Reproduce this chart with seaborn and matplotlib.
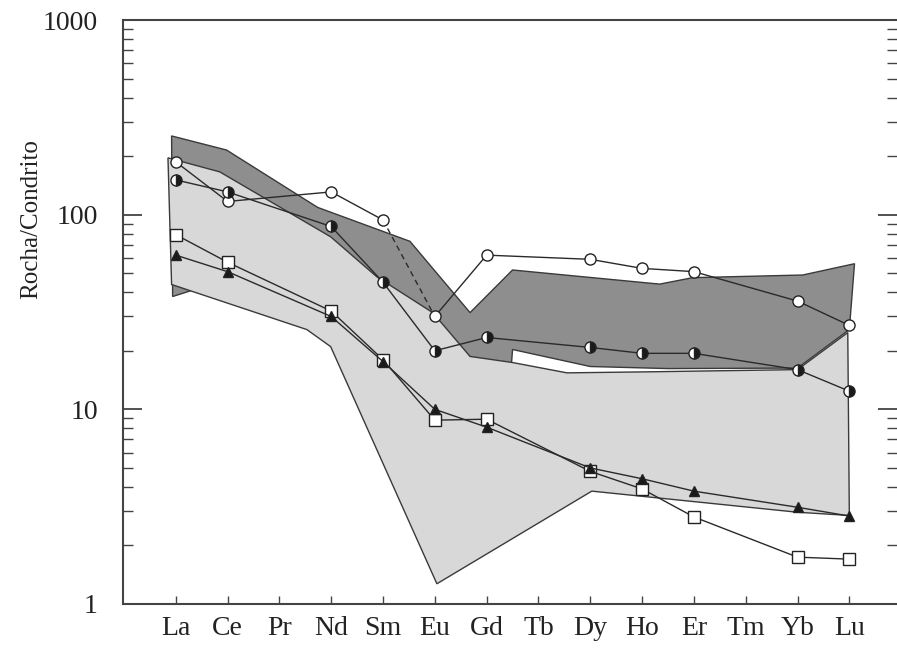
import matplotlib
matplotlib.use("Agg")
import matplotlib.pyplot as plt
import matplotlib.ticker as mticker
import pandas as pd
import seaborn as sns

# elementos terras raras no eixo x
elements = ["La", "Ce", "Pr", "Nd", "Sm", "Eu", "Gd", "Tb", "Dy", "Ho", "Er", "Tm", "Yb", "Lu"]
sample_elems = ["La", "Ce", "Nd", "Sm", "Eu", "Gd", "Dy", "Ho", "Er", "Yb", "Lu"]

# amostras (normalizadas ao condrito)
open_circle = [187, 117, 131, 94, 30, 62, 59, 53, 51, 36, 27]
half_circle = [151, 131, 87, 45, 20, 23.4, 20.8, 19.4, 19.4, 16.0, 12.4]
open_square = [79, 57, 32, 18, 8.8, 8.9, 4.8, 3.9, 2.8, 1.74, 1.70]
filled_tri = [62, 51, 30, 17.6, 10.0, 8.1, 5.0, 4.4, 3.8, 3.14, 2.83]

# campo cinza escuro (posição no eixo x, valor)
dark_x = [-0.08, 0.98, 2.74, 4.52, 5.68, 6.5, 9.34, 9.98, 12.1, 13.1, 13.0, 12.0, 9.5, 8.0, 6.5, 6.45, 2.99, 0.33, -0.06]
dark_y = [254, 215, 109, 73, 31.4, 52, 44, 47.5, 49, 56, 25.7, 16.3, 16.2, 16.6, 20.3, 13.4, 24.3, 41, 38]

# campo cinza claro
light_x = [-0.15, 0.85, 2.99, 3.88, 4.96, 5.68, 6.5, 7.55, 9.21, 12.0, 12.97, 13.0, 12.0, 8.03, 5.04, 2.99, 2.53, -0.08]
light_y = [196, 166, 77, 48, 31.4, 18.7, 17.4, 15.4, 15.6, 16.0, 24.8, 2.85, 2.96, 3.8, 1.27, 21, 25.7, 43.8]

sns.set_style("ticks")
plt.rcParams["font.family"] = ["Liberation Serif", "DejaVu Serif"]

fig = plt.figure(figsize=(8.97, 6.59), dpi=100)
ax = fig.add_axes([0.137, 0.0835, 0.863, 0.886])

ax.fill(dark_x, dark_y, facecolor="#8e8e8e", edgecolor="#3a3a3a", linewidth=1.0, zorder=1)
ax.fill(light_x, light_y, facecolor="#d8d8d8", edgecolor="#3a3a3a", linewidth=1.0, zorder=2)

pos = [elements.index(e) for e in sample_elems]
line_kw = dict(color="#2a2a2a", linewidth=1.0, markersize=8, markeredgewidth=1.0,
               markeredgecolor="#222222", zorder=4)


def draw(vals, idx, marker, **kw):
    df = pd.DataFrame({"x": [pos[i] for i in idx], "y": [vals[i] for i in idx]})
    opts = dict(line_kw)
    opts.update(kw)
    sns.lineplot(data=df, x="x", y="y", marker=marker, ax=ax, sort=False,
                 legend=False, **opts)


# círculo aberto: segmento Sm-Eu tracejado
draw(open_circle, range(0, 4), "o", markerfacecolor="white")
draw(open_circle, range(4, 11), "o", markerfacecolor="white")
sns.lineplot(x=[pos[3], pos[4]], y=[open_circle[3], open_circle[4]], ax=ax,
             color="#2a2a2a", linewidth=1.0, linestyle=(0, (4, 3)), zorder=3, legend=False)

draw(half_circle, range(11), "o", markerfacecolor="#1a1a1a", fillstyle="right",
     markerfacecoloralt="white")
draw(open_square, range(11), "s", markerfacecolor="white")
draw(filled_tri, range(11), "^", markerfacecolor="#1a1a1a", markersize=7)

ax.set_yscale("log")
ax.set_ylim(1, 1000)
ax.set_xlim(-1.02, 13.92)
ax.yaxis.set_major_locator(mticker.FixedLocator([1, 10, 100, 1000]))
ax.yaxis.set_major_formatter(mticker.FixedFormatter(["1", "10", "100", "1000"]))
ax.yaxis.set_minor_locator(mticker.LogLocator(base=10, subs=range(2, 10)))
ax.yaxis.set_minor_formatter(mticker.NullFormatter())
ax.set_xticks(range(len(elements)))
ax.set_xticklabels(elements)

ax.tick_params(axis="y", which="major", direction="in", length=14, width=1.2,
               left=True, right=True, labelsize=20, pad=18, colors="#333333",
               labelcolor="#222222")
ax.tick_params(axis="y", which="minor", direction="in", length=7, width=1.0,
               left=True, right=True, colors="#444444")
ax.tick_params(axis="x", direction="in", length=6, width=1.0, top=False,
               labelsize=20, pad=9, colors="#444444", labelcolor="#222222")

ax.set_xlabel("")
ax.set_ylabel("Rocha/Condrito", fontsize=18, color="#222222")
ax.yaxis.set_label_coords(-0.104, 0.66)

for side in ["left", "bottom", "top"]:
    ax.spines[side].set_color("#444444")
    ax.spines[side].set_linewidth(1.5)
ax.spines["right"].set_visible(False)

fig.savefig("out.png", dpi=100)
